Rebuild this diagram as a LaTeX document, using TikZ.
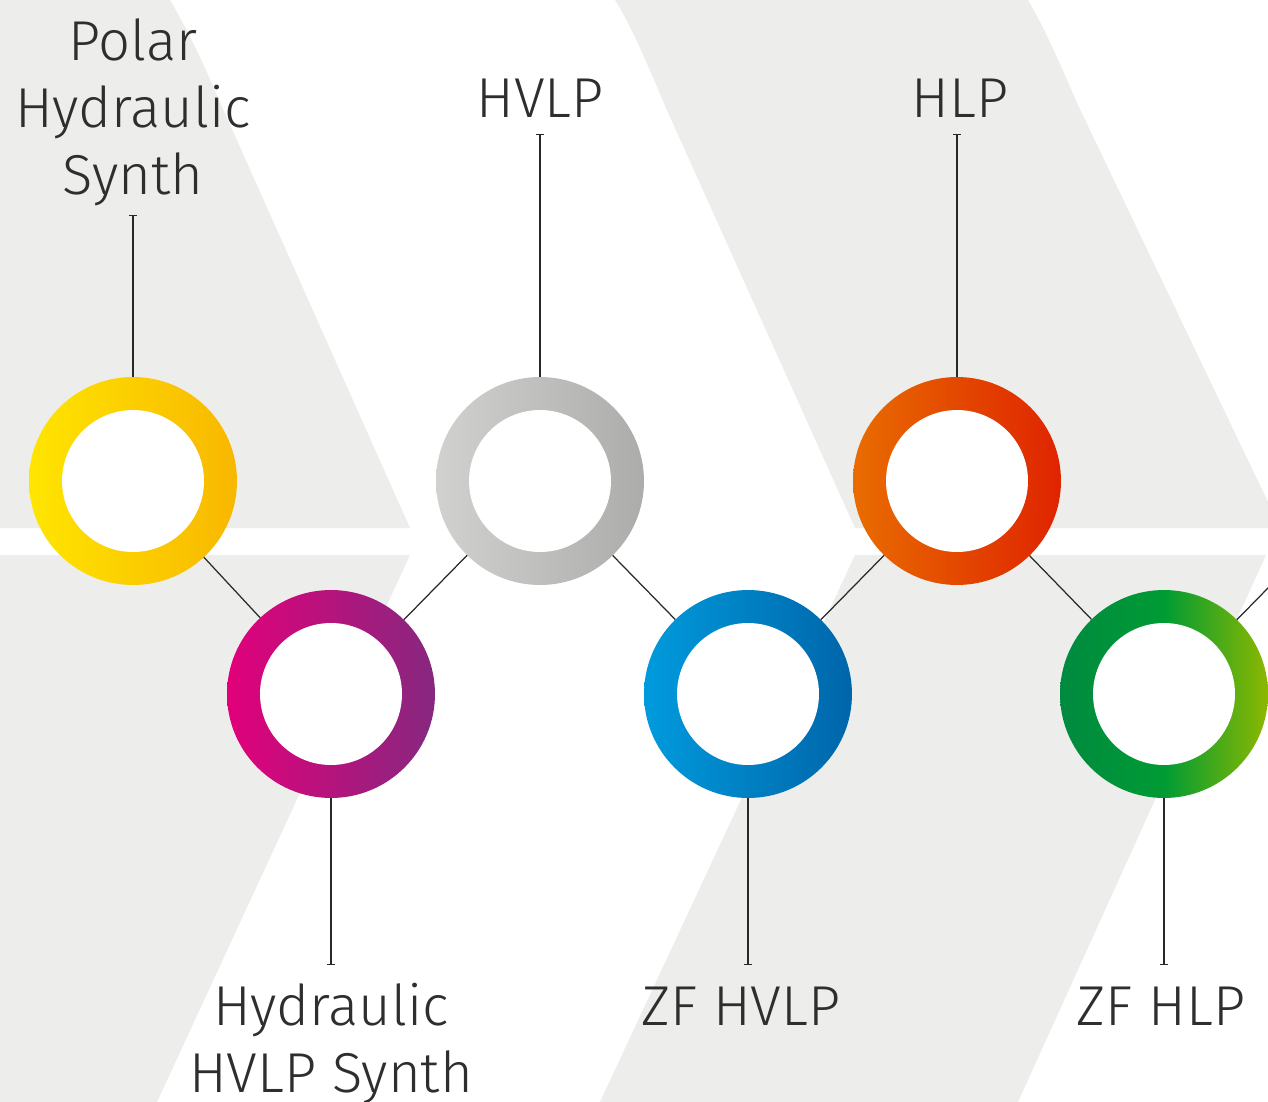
\documentclass[tikz,border=0pt]{standalone}
\usepackage{fontspec}
\setmainfont{Fira Sans Light}
\usetikzlibrary{arrows.meta}

\definecolor{bandgrey}{RGB}{237,237,235}
\definecolor{linegrey}{RGB}{40,40,40}
\definecolor{txtgrey}{RGB}{46,46,46}
\definecolor{ylwL}{RGB}{255,229,0}
\definecolor{ylwR}{RGB}{248,183,0}
\definecolor{gryL}{RGB}{209,209,208}
\definecolor{gryR}{RGB}{172,172,171}
\definecolor{orgL}{RGB}{233,108,0}
\definecolor{orgR}{RGB}{223,36,0}
\definecolor{magL}{RGB}{226,0,122}
\definecolor{magR}{RGB}{134,40,127}
\definecolor{bluL}{RGB}{0,155,221}
\definecolor{bluR}{RGB}{0,101,170}
\definecolor{grnL}{RGB}{0,138,64}
\definecolor{grnM}{RGB}{0,155,52}
\definecolor{grnR}{RGB}{140,184,0}

\tikzset{
  ring/.style={circle,minimum size=4.16cm,inner sep=0pt,outer sep=0pt,
    path picture={\fill[white] (path picture bounding box.center) circle (1.42cm);}},
  link/.style={draw=linegrey,line width=0.7pt},
  stem/.style={draw=linegrey,line width=0.7pt,-{Bar[width=4pt,line width=0.8pt]}},
  lbl/.style={text=txtgrey,font=\fontsize{32}{38}\selectfont,align=center,inner sep=0pt}
}

\begin{document}
\begin{tikzpicture}[x=0.02cm,y=-0.02cm]
\clip (0,0) rectangle (1268,1102);
\fill[white] (0,0) rectangle (1268,1102);
% grey bands
\fill[bandgrey] (0,0) -- (170,0) .. controls (186,27) and (203,62) .. (219,100) -- (410,528) -- (0,528) -- cycle;
\fill[bandgrey] (615,0) .. controls (632,27) and (650,70) .. (666,108) -- (855,528) -- (1268,528) -- (1268,502) -- (1077,103) .. controls (1061,66) and (1044,27) .. (1028,0) -- cycle;
\fill[bandgrey] (0,555) -- (410,555) -- (157,1102) -- (0,1102) -- cycle;
\fill[bandgrey] (855,555) -- (1266,555) -- (1018,1102) -- (600,1102) -- cycle;

% rings
\node[ring,left color=ylwL,right color=ylwR] (ylw) at (133,481) {};
\node[ring,left color=magL,right color=magR] (mag) at (331,694) {};
\node[ring,left color=gryL,right color=gryR] (gry) at (540,481) {};
\node[ring,left color=bluL,right color=bluR] (blu) at (748,694) {};
\node[ring,left color=orgL,right color=orgR] (org) at (957,481) {};
\node[ring,left color=grnL,right color=grnR,middle color=grnM] (grn) at (1164,694) {};
\coordinate (nxt) at (1373,481);

\foreach \a/\b in {ylw/mag,mag/gry,gry/blu,blu/org,org/grn,grn/nxt}
  \draw[link] (\a) -- (\b);

% stems
\coordinate (ylwtip) at (133,215);
\coordinate (grytip) at (540,134);
\coordinate (orgtip) at (957,134);
\coordinate (magtip) at (331,965);
\coordinate (blutip) at (748,965);
\coordinate (grntip) at (1164,965);
\foreach \r in {ylw,gry,org,mag,blu,grn}
  \draw[stem] (\r) -- (\r tip);

% labels
\node[lbl,anchor=base] (ylwlbl) at (133,194) {Polar\\Hydraulic\\Synth};
\node[lbl,anchor=base] (grylbl) at (540,117) {HVLP};
\node[lbl,anchor=base] (orglbl) at (960,117) {HLP};
\node[lbl,anchor=base] (maglbl) at (331,1092) {Hydraulic\\HVLP Synth};
\node[lbl,anchor=base] (blulbl) at (741,1025) {ZF HVLP};
\node[lbl,anchor=base] (grnlbl) at (1161,1025) {ZF HLP};
\end{tikzpicture}
\end{document}
